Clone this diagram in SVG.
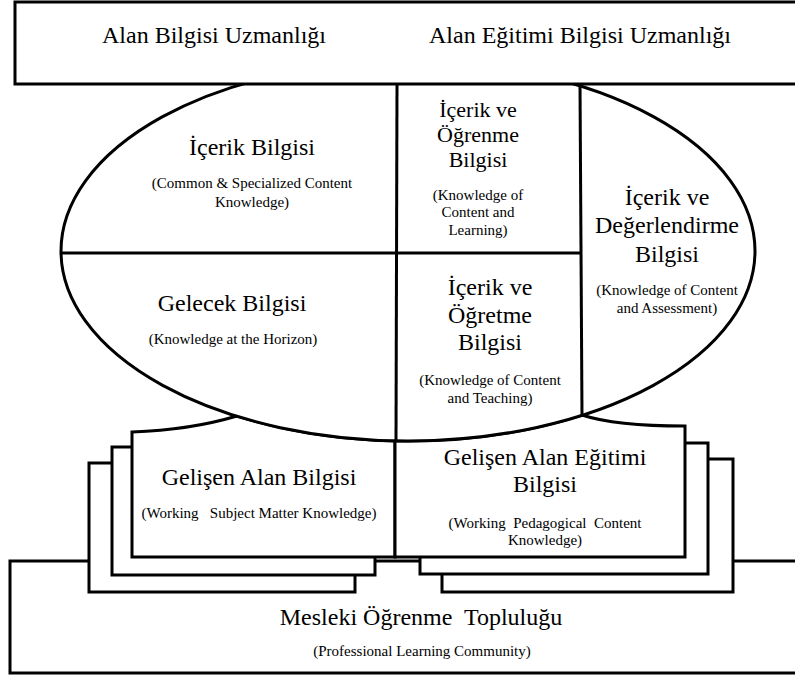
<svg xmlns="http://www.w3.org/2000/svg" width="795" height="677" viewBox="0 0 795 677">
  <style>
    .box { fill: #ffffff; stroke: #000000; stroke-width: 3; stroke-linejoin: miter; }
    .line { fill: none; stroke: #000000; stroke-width: 3; }
    text { font-family: "Liberation Serif", "Times New Roman", serif; fill: #000000; text-anchor: middle; }
    .big { font-size: 24px; }
    .mid { font-size: 22px; }
    .small { font-size: 15px; }
    .pre { white-space: pre; }
  </style>
  <rect width="795" height="677" fill="#ffffff"/>

  <!-- Professional learning community frame -->
  <g id="mesleki">
    <rect class="box" x="10" y="561" width="800" height="112"/>
    <text class="big pre" x="421" y="625">Mesleki Öğrenme  Topluluğu</text>
    <text class="small" x="422" y="656">(Professional Learning Community)</text>
  </g>

  <!-- Stacked sheets behind the working-knowledge boxes -->
  <g id="stack-left">
    <rect class="box" x="89" y="463" width="266" height="129"/>
    <rect class="box" x="112" y="447" width="263" height="128"/>
  </g>
  <g id="stack-right">
    <rect class="box" x="442" y="459" width="291" height="133"/>
    <rect class="box" x="420" y="443" width="288" height="131"/>
  </g>

  <!-- Working subject matter knowledge -->
  <g id="gelisen-alan">
    <path class="box" d="M132,432 Q190,430 237,416 A347,190 0 0 0 395,441 L395,557 L132,557 Z"/>
    <text class="big" x="259" y="485">Gelişen Alan Bilgisi</text>
    <text class="small pre" x="259" y="518">(Working   Subject Matter Knowledge)</text>
  </g>

  <!-- Working pedagogical content knowledge -->
  <g id="gelisen-alan-egitimi">
    <path class="box" d="M395,441 A347,190 0 0 0 582,415 Q615,426 685,426 L685,557 L395,557 Z"/>
    <text class="big" x="545" y="465">Gelişen Alan Eğitimi</text>
    <text class="big" x="545" y="492">Bilgisi</text>
    <text class="small pre" x="545" y="528">(Working  Pedagogical  Content</text>
    <text class="small" x="545" y="545">Knowledge)</text>
  </g>

  <!-- Knowledge domains oval -->
  <g id="oval">
    <ellipse class="box" cx="408" cy="251" rx="347" ry="190"/>
  </g>

  <!-- Dividing lines inside the oval -->
  <g id="connectors">
    <line class="line" x1="62" y1="253" x2="580" y2="253"/>
    <line class="line" x1="397" y1="84" x2="396" y2="441"/>
    <line class="line" x1="580" y1="84" x2="582" y2="415"/>
  </g>

  <g id="icerik-bilgisi">
    <text class="big" x="252" y="155">İçerik Bilgisi</text>
    <text class="small" x="252" y="188">(Common &amp; Specialized Content</text>
    <text class="small" x="252" y="207">Knowledge)</text>
  </g>

  <g id="gelecek-bilgisi">
    <text class="big" x="232" y="311">Gelecek Bilgisi</text>
    <text class="small" x="233" y="344">(Knowledge at the Horizon)</text>
  </g>

  <g id="icerik-ogrenme">
    <text class="mid" x="478" y="117">İçerik ve</text>
    <text class="mid" x="478" y="142">Öğrenme</text>
    <text class="mid" x="478" y="167">Bilgisi</text>
    <text class="small" x="478" y="200">(Knowledge of</text>
    <text class="small" x="478" y="217">Content and</text>
    <text class="small" x="478" y="235">Learning)</text>
  </g>

  <g id="icerik-ogretme">
    <text class="big" x="490" y="295">İçerik ve</text>
    <text class="big" x="490" y="323">Öğretme</text>
    <text class="big" x="490" y="350">Bilgisi</text>
    <text class="small" x="490" y="385">(Knowledge of Content</text>
    <text class="small" x="490" y="403">and Teaching)</text>
  </g>

  <g id="icerik-degerlendirme">
    <text class="big" x="667" y="205">İçerik ve</text>
    <text class="big" x="667" y="233">Değerlendirme</text>
    <text class="big" x="667" y="262">Bilgisi</text>
    <text class="small" x="667" y="295">(Knowledge of Content</text>
    <text class="small" x="667" y="313">and Assessment)</text>
  </g>

  <!-- Expertise header band -->
  <g id="uzmanlik">
    <rect class="box" x="15" y="2" width="800" height="82"/>
    <text class="big" x="214" y="43">Alan Bilgisi Uzmanlığı</text>
    <text class="big" x="580" y="43">Alan Eğitimi Bilgisi Uzmanlığı</text>
  </g>
</svg>
